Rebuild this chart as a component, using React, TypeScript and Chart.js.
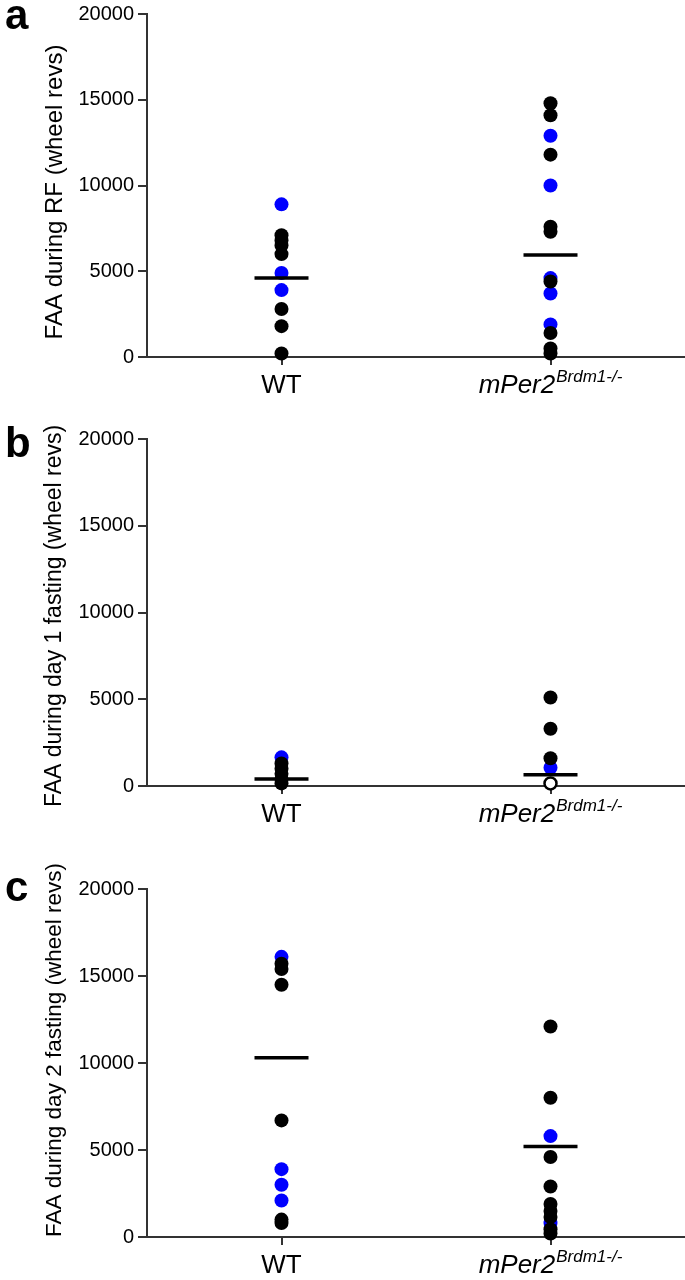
import React, { useEffect, useRef } from 'react';
import { Chart, registerables } from 'chart.js';

Chart.register(...registerables);

const FONT = '"Liberation Sans", Arial, Helvetica, sans-serif';

// ---- data ----
const categories = ['WT', 'mPer2'];
const superscripts = ['', 'Brdm1-/-'];
const italicLabels = [false, true];
const yTicks = [0, 5000, 10000, 15000, 20000];

// panel a: FAA during RF
const rfWtBlack = [7100, 6800, 6500, 6000, 2800, 1800, 200];
const rfWtBlue = [8900, 4900, 3900];
const rfWtOpen: number[] = [];
const rfMutBlack = [14800, 14100, 11800, 7600, 7300, 4400, 1400, 500, 200];
const rfMutBlue = [12900, 10000, 4600, 3700, 1900];
const rfMutOpen: number[] = [];
const rfMeans = [4600, 5950];

// panel b: FAA during day 1 fasting
const d1WtBlack = [1300, 1000, 700, 400, 150];
const d1WtBlue = [1650];
const d1WtOpen: number[] = [];
const d1MutBlack = [5100, 3300, 1600];
const d1MutBlue = [1050];
const d1MutOpen = [150];
const d1Means = [400, 650];

// panel c: FAA during day 2 fasting
const d2WtBlack = [15700, 15400, 14500, 6700, 1000, 800];
const d2WtBlue = [16100, 3900, 3000, 2100];
const d2WtOpen: number[] = [];
const d2MutBlack = [12100, 8000, 4600, 2900, 1900, 1500, 1150, 450, 200];
const d2MutBlue = [5800, 800];
const d2MutOpen: number[] = [];
const d2Means = [10300, 5200];

// ---- layout ----
type PanelCfg = {
  letter: string;
  title: string;
  titleSize: number;
  titleCenter: number;
  top: number;
  height: number;
  areaTop: number;
  areaBottom: number;
  letterBaseline: number;
  black: number[][];
  blue: number[][];
  open: number[][];
  means: number[];
};

const panels: PanelCfg[] = [
  {
    letter: 'a', title: 'FAA during RF (wheel revs)', titleSize: 24, titleCenter: 192, top: 0, height: 420,
    areaTop: 11, areaBottom: 357, letterBaseline: 29,
    black: [rfWtBlack, rfMutBlack], blue: [rfWtBlue, rfMutBlue], open: [rfWtOpen, rfMutOpen], means: rfMeans,
  },
  {
    letter: 'b', title: 'FAA during day 1 fasting (wheel revs)', titleSize: 23, titleCenter: 196, top: 420, height: 430,
    areaTop: 19, areaBottom: 366, letterBaseline: 37,
    black: [d1WtBlack, d1MutBlack], blue: [d1WtBlue, d1MutBlue], open: [d1WtOpen, d1MutOpen], means: d1Means,
  },
  {
    letter: 'c', title: 'FAA during day 2 fasting (wheel revs)', titleSize: 22.5, titleCenter: 200, top: 850, height: 430,
    areaTop: 39, areaBottom: 387, letterBaseline: 51,
    black: [d2WtBlack, d2MutBlack], blue: [d2WtBlue, d2MutBlue], open: [d2WtOpen, d2MutOpen], means: d2Means,
  },
];

function toPoints(groups: number[][]) {
  const pts: { x: string; y: number }[] = [];
  groups.forEach((vals, i) => vals.forEach((v) => pts.push({ x: categories[i], y: v })));
  return pts;
}

const panelTextPlugin = {
  id: 'panelText',
  afterDraw(chart: any, _args: any, opts: any) {
    const { ctx } = chart;
    const xs = chart.scales.x;
    const axisY = chart.chartArea.bottom;
    ctx.save();
    ctx.fillStyle = '#000';
    ctx.textBaseline = 'alphabetic';
    ctx.textAlign = 'left';
    categories.forEach((cat, i) => {
      const x = xs.getPixelForValue(i);
      const it = italicLabels[i] ? 'italic ' : '';
      const mainFont = `${it}26px ${FONT}`;
      const supFont = `${it}17px ${FONT}`;
      ctx.font = mainFont;
      const w1 = ctx.measureText(cat).width;
      ctx.font = supFont;
      const w2 = superscripts[i] ? ctx.measureText(superscripts[i]).width + 1 : 0;
      const start = x - (w1 + w2) / 2;
      const base = axisY + 36;
      ctx.font = mainFont;
      ctx.fillText(cat, start, base);
      if (superscripts[i]) {
        ctx.font = supFont;
        ctx.fillText(superscripts[i], start + w1 + 1, base - 11);
      }
    });
    // panel letter
    ctx.font = `bold 42px ${FONT}`;
    ctx.fillText(opts.letter, 5, opts.letterBaseline);
    // y axis title
    ctx.translate(55, opts.titleCenter);
    ctx.rotate(-Math.PI / 2);
    ctx.font = `${opts.titleSize}px ${FONT}`;
    ctx.textAlign = 'center';
    ctx.textBaseline = 'middle';
    ctx.fillText(opts.title, 0, 0);
    ctx.restore();
  },
};

function Panel({ cfg }: { cfg: PanelCfg }) {
  const ref = useRef<HTMLCanvasElement>(null);
  useEffect(() => {
    const canvas = ref.current;
    if (!canvas) return;
    const chart = new Chart(canvas, {
      type: 'scatter',
      data: {
        datasets: [
          {
            label: 'mean',
            data: cfg.means.map((m, i) => ({ x: categories[i], y: m })),
            pointStyle: 'line',
            pointRadius: 27,
            pointHoverRadius: 27,
            pointBorderWidth: 3.5,
            pointBorderColor: '#000',
            pointBackgroundColor: '#000',
            order: 0,
            clip: false,
          } as any,
          {
            label: 'open',
            data: toPoints(cfg.open),
            pointRadius: 6,
            pointBorderWidth: 2.5,
            pointBorderColor: '#000',
            pointBackgroundColor: '#fff',
            order: 1,
            clip: false,
          } as any,
          {
            label: 'black',
            data: toPoints(cfg.black),
            pointRadius: 7,
            pointBorderWidth: 0,
            pointBackgroundColor: '#000',
            pointBorderColor: '#000',
            order: 2,
            clip: false,
          } as any,
          {
            label: 'blue',
            data: toPoints(cfg.blue),
            pointRadius: 7,
            pointBorderWidth: 0,
            pointBackgroundColor: '#0000ff',
            pointBorderColor: '#0000ff',
            order: 3,
            clip: false,
          } as any,
        ],
      },
      options: {
        responsive: false,
        animation: false,
        events: [],
        layout: { autoPadding: false, padding: { top: cfg.areaTop, left: 0, right: 0, bottom: 0 } },
        plugins: {
          legend: { display: false },
          tooltip: { enabled: false },
          panelText: {
            letter: cfg.letter,
            letterBaseline: cfg.letterBaseline,
            title: cfg.title,
            titleSize: cfg.titleSize,
            titleCenter: cfg.titleCenter,
          },
        } as any,
        scales: {
          x: {
            type: 'category',
            labels: categories,
            offset: true,
            grid: {
              display: true,
              drawOnChartArea: false,
              drawTicks: true,
              tickLength: 8,
              color: '#333',
              lineWidth: 2,
              offset: false,
            },
            border: { display: true, color: '#333', width: 2 },
            ticks: { display: false },
            afterFit: (s: any) => {
              s.height = cfg.height - cfg.areaBottom;
            },
          },
          y: {
            type: 'linear',
            min: 0,
            max: 20000,
            afterBuildTicks: (s: any) => {
              s.ticks = yTicks.map((v) => ({ value: v }));
            },
            ticks: {
              font: { family: FONT, size: 20, lineHeight: 1 },
              color: '#000',
              padding: 4,
              callback: (v: any) => String(v),
            },
            grid: {
              drawOnChartArea: false,
              drawTicks: true,
              tickLength: 9,
              color: '#333',
              lineWidth: 2,
            },
            border: { display: true, color: '#333', width: 2 },
            title: { display: false },
            afterFit: (s: any) => {
              s.width = 147;
            },
          },
        },
      },
      plugins: [panelTextPlugin as any],
    });
    return () => chart.destroy();
  }, [cfg]);
  return (
    <canvas
      ref={ref}
      width={685}
      height={cfg.height}
      style={{ position: 'absolute', left: 0, top: cfg.top, width: 685, height: cfg.height }}
    />
  );
}

export default function App() {
  return (
    <div style={{ position: 'absolute', left: 0, top: 0, width: 685, height: 1280, background: '#fff' }}>
      {panels.map((p) => (
        <Panel key={p.letter} cfg={p} />
      ))}
    </div>
  );
}
